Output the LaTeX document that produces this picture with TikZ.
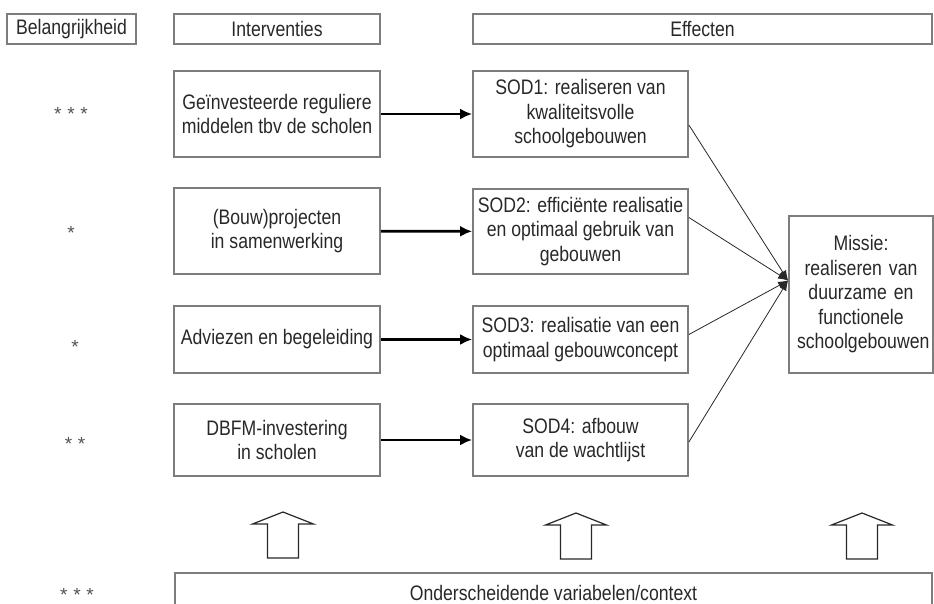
\documentclass[tikz,border=0pt]{standalone}
\usepackage{fontspec}
\setmainfont{Liberation Sans}[FakeStretch=0.84]
\newfontfamily\rankfont{Liberation Sans}[LetterSpace=30]
\usetikzlibrary{arrows.meta, calc, positioning}
\definecolor{boxgray}{RGB}{125,125,125}
\definecolor{inkgray}{RGB}{40,40,40}
\tikzset{
  box/.style={draw=boxgray, line width=1.8pt, inner sep=0pt, align=center, text=inkgray},
  rank/.style={text=inkgray!80, inner sep=0pt, font=\rankfont\fontsize{19}{19}\selectfont},
  flow/.style={-{Latex[length=12pt, width=11pt]}, line width=2.8pt},
  feed/.style={-{Latex[length=10pt, width=8pt]}, line width=0.8pt, draw=inkgray},
  lift/.style={draw=inkgray, line width=1.2pt, line join=miter}
}
% open up-arrow around a named coordinate
\newcommand{\liftarrow}[1]{%
  \draw[lift] ($(#1)+(-15.5,23)$) -- ++(0,-34) -- ++(-15,0) -- ++(30.5,-12)
    -- ++(30.5,12) -- ++(-15,0) -- ++(0,34) -- cycle;}

\begin{document}
\begin{tikzpicture}[x=1pt, y=-1pt, font=\fontsize{21}{24.5}\selectfont]
    \useasboundingbox (0,0) rectangle (934,603);

    % Headers
    \node[box, minimum width=129pt, minimum height=30pt] (bel) at (71.5,29) {Belangrijkheid};
    \node[box, minimum width=206pt, minimum height=30pt] (intv) at (277,29) {Interventies};
    \node[box, minimum width=459pt, minimum height=30pt] (eff) at (702.5,29) {Effecten};

    % Interventies
    \node[box, minimum width=206pt, minimum height=86pt] (i1) at (277,114) {Geïnvesteerde reguliere\\middelen tbv de scholen};
    \node[box, minimum width=206pt, minimum height=86pt] (i2) at (277,231) {(Bouw)projecten\\in samenwerking};
    \node[box, minimum width=206pt, minimum height=67pt] (i3) at (277,339.5) {Adviezen en begeleiding};
    \node[box, minimum width=206pt, minimum height=72pt] (i4) at (277,440) {DBFM-investering\\in scholen};

    % Effecten
    \node[box, minimum width=215pt, minimum height=86pt] (s1) at (580.5,114) {SOD1: realiseren van\\kwaliteitsvolle\\schoolgebouwen};
    \node[box, minimum width=215pt, minimum height=85pt] (s2) at (580.5,231.5) {SOD2: efficiënte realisatie\\en optimaal gebruik van\\gebouwen};
    \node[box, minimum width=215pt, minimum height=67pt] (s3) at (580.5,339.5) {SOD3: realisatie van een\\optimaal gebouwconcept};
    \node[box, minimum width=215pt, minimum height=72pt] (s4) at (580.5,440) {SOD4: afbouw\\van de wachtlijst};

    % Missie
    \node[box, inner sep=8pt, text width=128pt, minimum height=157pt] (missie) at (861,294.5) {Missie:\\realiseren van\\duurzame en\\functionele\\schoolgebouwen};
    \coordinate (hub) at ($(missie.west)+(0,-14)$);

    % Context
    \node[box, minimum width=757pt, minimum height=40pt] (ctx) at (553.5,593) {Onderscheidende variabelen/context};

    % Belangrijkheid
    \node[rank] (r1) at (71,114) {***};
    \node[rank] (r2) at (71,233) {*};
    \node[rank] (r3) at (75,347) {*};
    \node[rank] (r4) at (75,444) {**};
    \node[rank] (r5) at (77,595) {***};

    % Pijlen
    \draw[flow] (i1) -- (s1);
    \draw[flow] (i2) -- (s2);
    \draw[flow] (i3) -- (s3);
    \draw[flow] (i4) -- (s4);

    \draw[feed] ($(s1.east)+(0,11)$) -- (hub);
    \draw[feed] ($(s2.east)+(0,-14)$) -- (hub);
    \draw[feed] ($(s3.east)+(0,-5)$) -- (hub);
    \draw[feed] ($(s4.east)+(0,2)$) -- (hub);

    % Context pijlen
    \coordinate (up1) at (283,535);
    \coordinate (up2) at (576,536);
    \coordinate (up3) at (862,536);
    \liftarrow{up1}
    \liftarrow{up2}
    \liftarrow{up3}
\end{tikzpicture}
\end{document}
